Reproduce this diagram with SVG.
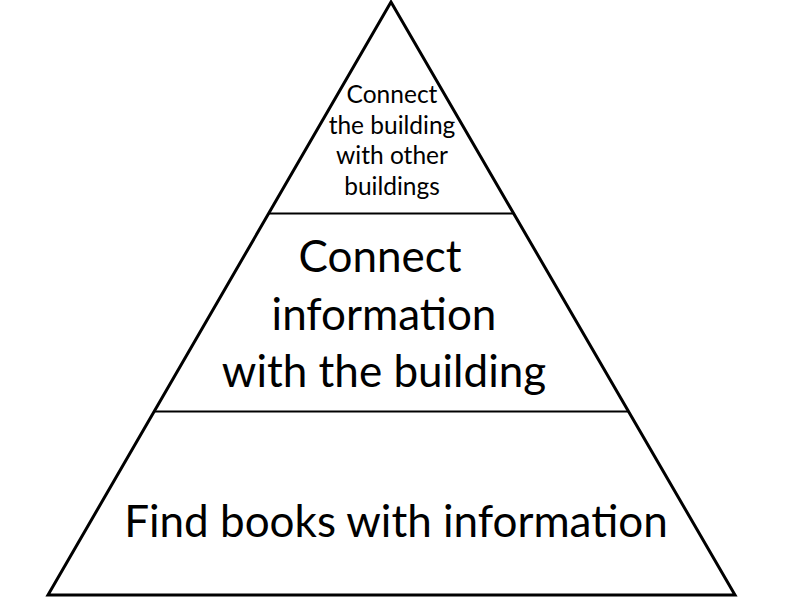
<svg xmlns="http://www.w3.org/2000/svg" width="800" height="600" viewBox="0 0 800 600">
<style>
.edge{stroke:#000;stroke-width:3;fill:none;stroke-linejoin:miter}
.div{stroke:#000;stroke-width:2;fill:none}
text{font-family:Lato,"Open Sans","Liberation Sans",sans-serif;fill:#000;text-anchor:middle}
.s{font-size:24.5px}
.l{font-size:44px}
</style>
<rect width="800" height="600" fill="#fff"/>
<g id="connectors">
<polygon class="edge" points="391,2 48,595 735,595"/>
<line class="div" x1="269" y1="213.5" x2="514" y2="213.5"/>
<line class="div" x1="155" y1="411.5" x2="629" y2="411.5"/>
</g>
<g id="top">
<text class="s" x="392" y="103">Connect</text>
<text class="s" x="392" y="134">the building</text>
<text class="s" x="392" y="164">with other</text>
<text class="s" x="392" y="195">buildings</text>
</g>
<g id="middle">
<text class="l" x="380" y="272">Connect</text>
<text class="l" x="384" y="330">information</text>
<text class="l" x="384" y="387">with the building</text>
</g>
<g id="bottom">
<text class="l" x="396" y="537">Find books with information</text>
</g>
</svg>
